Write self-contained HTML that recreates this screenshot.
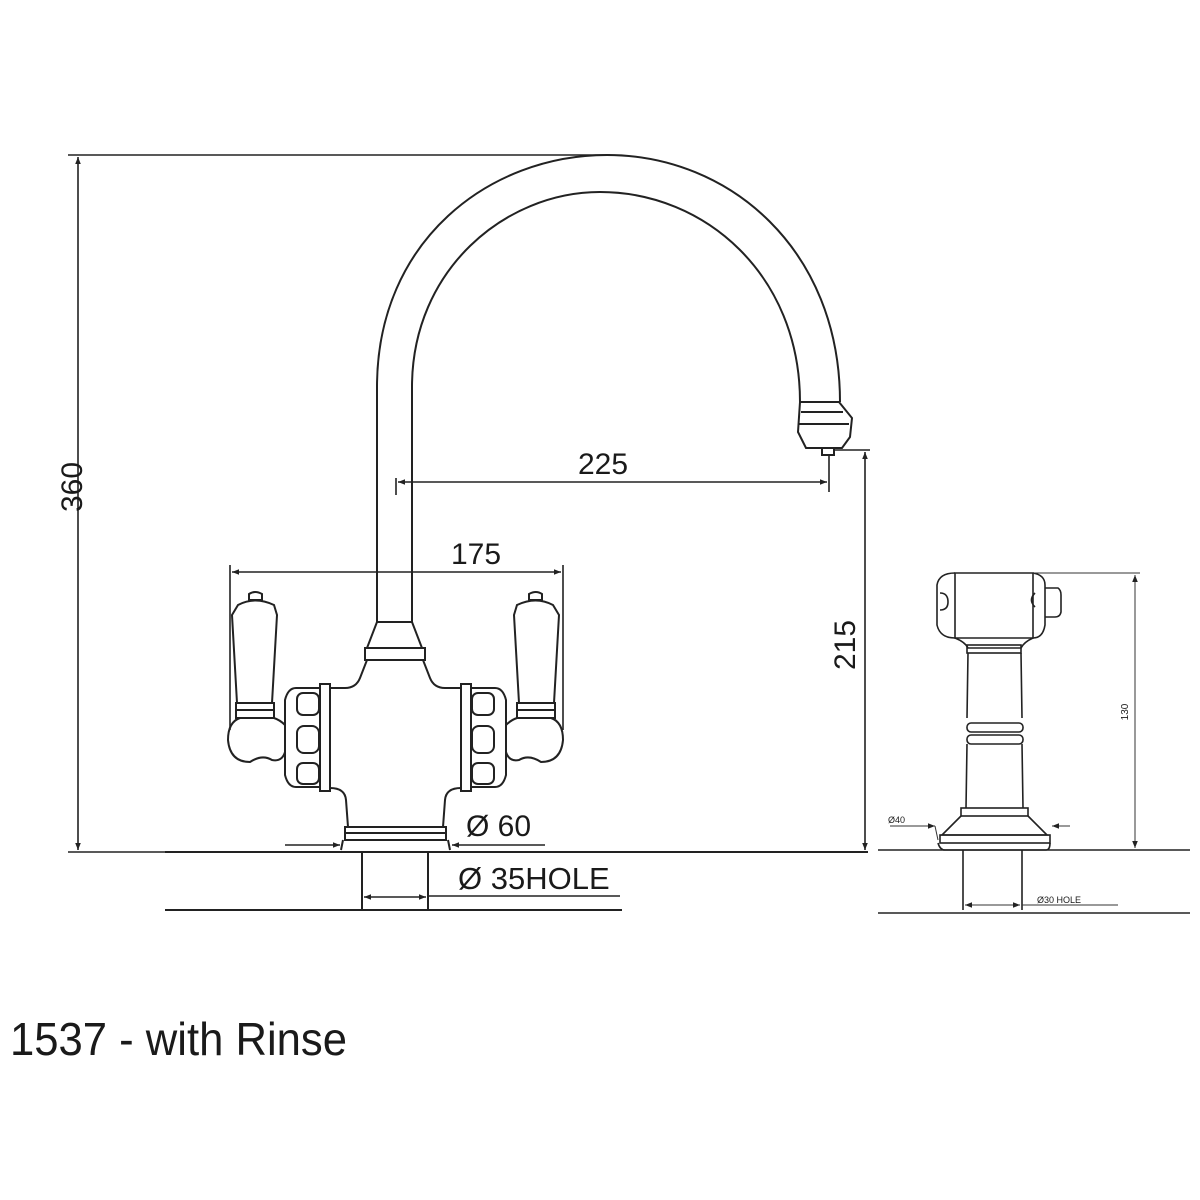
<!DOCTYPE html>
<html><head><meta charset="utf-8"><style>
html,body{margin:0;padding:0;background:#fff;}
svg{display:block;}
text{font-family:"Liberation Sans",sans-serif;fill:#1a1a1a;}
</style></head><body>
<svg width="1200" height="1200" viewBox="0 0 1200 1200" xmlns="http://www.w3.org/2000/svg">
<defs>
<marker id="a" viewBox="0 0 10 10" refX="10" refY="5" markerWidth="9" markerHeight="7" orient="auto-start-reverse" markerUnits="userSpaceOnUse"><path d="M0,1 L10,5 L0,9 Z" fill="#222"/></marker>
<g id="lever">
  <path d="M249,600 L249,594 Q255,590 262,594 L262,600 Z"/>
  <path d="M238,605 Q255,596 274,605 L277,615 L272,703 L237,703 L232,615 Z"/>
  <rect x="236" y="703" width="38" height="15"/>
  <line x1="236" y1="710" x2="274" y2="710"/>
  <path d="M240,718 Q228,722 228,740 Q230,762 250,762 Q262,754 272,760 Q282,762 285,752 L285,725 Q280,720 274,718 Z"/>
  <path d="M285,700 Q288,688 296,688 L320,688 L320,787 L296,787 Q288,787 285,775 Z"/>
  <rect x="320" y="684" width="10" height="107"/>
  <rect x="297" y="693" width="22" height="22" rx="6"/>
  <rect x="297" y="726" width="22" height="27" rx="7"/>
  <rect x="297" y="763" width="22" height="21" rx="6"/>
</g>
</defs>
<g fill="none" stroke="#222" stroke-width="2">
<path d="M377,622 L377,387 C377,240 490,155 607,155 C730,155 840,250 840,402"/>
<path d="M412,622 L412,387 C412,270 505,192 600,192 C705,192 800,275 800,402"/>
<path d="M800,402 L839,402 L852,418 L850,437 L842,448 L806,448 L798,432 Z"/>
<line x1="801" y1="412" x2="843" y2="412"/><line x1="799" y1="424" x2="849" y2="424"/>
<path d="M822,448 L822,455 L834,455 L834,448"/>
<path d="M377,622 L412,622 L422,648 L367,648 Z"/>
<rect x="365" y="648" width="60" height="12"/>
<path d="M367,660 L360,678 Q356,688 345,688 L330,688"/>
<path d="M423,660 L430,678 Q434,688 445,688 L461,688"/>
<path d="M330,788 Q345,788 346,800 L348,827"/>
<path d="M461,788 Q446,788 445,800 L443,827"/>
<rect x="345" y="827" width="101" height="13"/>
<line x1="346" y1="833" x2="445" y2="833"/>
<path d="M343,840 L341,850 M448,840 L450,850"/>
<use href="#lever"/>
<use href="#lever" transform="translate(791,0) scale(-1,1)"/>
<line x1="165" y1="852" x2="868" y2="852"/>
<line x1="165" y1="910" x2="622" y2="910"/>
<line x1="362" y1="852" x2="362" y2="910"/>
<line x1="428" y1="852" x2="428" y2="910"/>
</g>
<g fill="none" stroke="#222" stroke-width="1.6">
<line x1="68" y1="155" x2="610" y2="155"/>
<line x1="68" y1="852" x2="345" y2="852"/>
<line x1="78" y1="157" x2="78" y2="850" marker-start="url(#a)" marker-end="url(#a)"/>
<line x1="396" y1="478" x2="396" y2="495"/>
<line x1="829" y1="455" x2="829" y2="492"/>
<line x1="398" y1="482" x2="827" y2="482" marker-start="url(#a)" marker-end="url(#a)"/>
<line x1="834" y1="450" x2="870" y2="450"/>
<line x1="865" y1="452" x2="865" y2="850" marker-start="url(#a)" marker-end="url(#a)"/>
<line x1="230" y1="565" x2="230" y2="730"/>
<line x1="563" y1="565" x2="563" y2="730"/>
<line x1="232" y1="572" x2="561" y2="572" marker-start="url(#a)" marker-end="url(#a)"/>
<line x1="285" y1="845" x2="340" y2="845" marker-end="url(#a)"/>
<line x1="545" y1="845" x2="452" y2="845" marker-end="url(#a)"/>
<line x1="364" y1="897" x2="426" y2="897" marker-start="url(#a)" marker-end="url(#a)"/>
<line x1="428" y1="896" x2="620" y2="896"/>
</g>
<g fill="none" stroke="#222" stroke-width="1.6">
<path d="M955,573 L1033,573 L1033,638 L955,638 Z"/>
<path d="M955,573 Q939,573 937,585 L937,625 Q940,638 955,638"/>
<path d="M1033,573 Q1045,575 1045,585 L1045,625 Q1043,638 1033,638"/>
<path d="M1045,588 L1058,588 Q1061,590 1061,595 L1061,612 Q1060,617 1055,617 L1045,617"/>
<path d="M940,593 Q948,593 948,602 Q948,610 940,610"/>
<path d="M1035,593 Q1028,600 1035,607"/>
<path d="M955,638 Q965,642 968,648 L1021,648 Q1024,642 1033,638"/>
<rect x="967" y="645" width="54" height="8"/>
<path d="M968,653 L967,718 M1021,653 L1022,718"/>
<rect x="967" y="723" width="56" height="9" rx="4"/>
<rect x="967" y="735" width="56" height="9" rx="4"/>
<path d="M967,744 L966,808 M1022,744 L1023,808"/>
<rect x="961" y="808" width="67" height="8"/>
<path d="M961,816 L942,835 L1047,835 L1028,816"/>
<rect x="940" y="835" width="110" height="8"/>
<path d="M938,843 Q940,850 945,850 L1046,850 Q1050,850 1050,843"/>
<line x1="878" y1="850" x2="1190" y2="850"/>
<line x1="878" y1="913" x2="1190" y2="913"/>
<line x1="963" y1="850" x2="963" y2="910"/>
<line x1="1022" y1="850" x2="1022" y2="910"/>
</g>
<g fill="none" stroke="#333" stroke-width="1">
<line x1="1033" y1="573" x2="1140" y2="573"/>
<line x1="1135" y1="575" x2="1135" y2="848" marker-start="url(#a)" marker-end="url(#a)"/>
<line x1="890" y1="826" x2="935" y2="826" marker-end="url(#a)"/>
<line x1="1070" y1="826" x2="1052" y2="826" marker-end="url(#a)"/>
<line x1="935" y1="826" x2="938" y2="840"/>
<line x1="965" y1="905" x2="1020" y2="905" marker-start="url(#a)" marker-end="url(#a)"/>
<line x1="1022" y1="905" x2="1118" y2="905"/>
</g>
<text x="74" y="487" font-size="30" text-anchor="middle" transform="rotate(-90 74 487)" dominant-baseline="middle">360</text>
<text x="603" y="474" font-size="30" text-anchor="middle">225</text>
<text x="847" y="645" font-size="30" text-anchor="middle" transform="rotate(-90 847 645)" dominant-baseline="middle">215</text>
<text x="476" y="564" font-size="30" text-anchor="middle">175</text>
<text x="466" y="836" font-size="30">Ø 60</text>
<text x="458" y="889" font-size="31">Ø 35HOLE</text>
<text x="1128" y="712" font-size="10" text-anchor="middle" transform="rotate(-90 1128 712)">130</text>
<text x="888" y="823" font-size="9">Ø40</text>
<text x="1037" y="903" font-size="9">Ø30 HOLE</text>
<text x="10" y="1055" font-size="46" fill="#2a2a2a" textLength="337" lengthAdjust="spacingAndGlyphs">1537 - with Rinse</text>
</svg>
</body></html>
